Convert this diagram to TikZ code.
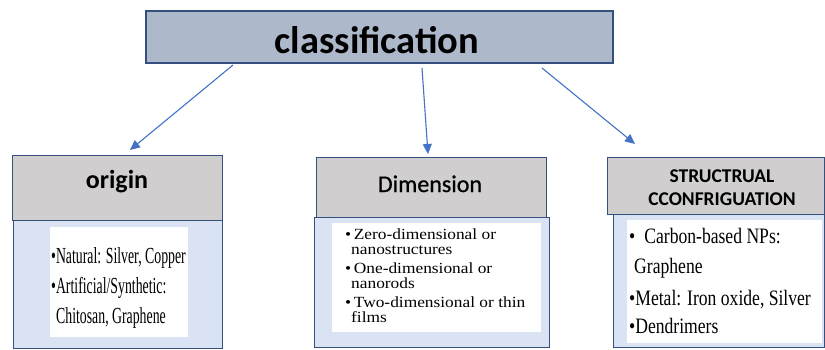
\documentclass[tikz,border=0pt]{standalone}
\usepackage{fontspec}
\setmainfont{Liberation Serif}
\newfontfamily\hdrfont{Carlito}
\newfontfamily\hdrmedfont[FakeBold=0.8]{Carlito}
\newfontfamily\leftfont[FakeStretch=0.6]{Liberation Serif}
\newfontfamily\midfont[FakeStretch=1.12]{Liberation Serif}
\newfontfamily\rightfont[FakeStretch=0.8]{Liberation Serif}
\usetikzlibrary{arrows.meta}
\definecolor{topfill}{HTML}{ADB9CA}
\definecolor{hdrfill}{HTML}{D0CECE}
\definecolor{bodyfill}{HTML}{DAE3F3}
\definecolor{navy}{HTML}{34507F}
\definecolor{arrowblue}{HTML}{4472C4}
\tikzset{
  topbox/.style={draw=navy, line width=1.5pt, fill=topfill, anchor=north west, inner sep=0pt},
  hdrbox/.style={draw=navy, line width=1.3pt, fill=hdrfill, anchor=north west, inner sep=0pt},
  bodybox/.style={draw=navy, line width=1pt, fill=bodyfill, anchor=north west, inner sep=0pt},
  whitebox/.style={fill=white, anchor=north west, inner sep=0pt},
  linetext/.style={anchor=base west, inner sep=0pt},
  hdrtext/.style={anchor=base, inner sep=0pt, align=center},
  conn/.style={draw=arrowblue, line width=1.1pt, -{Triangle[length=10pt,width=9pt]}, arrowblue}
}
\begin{document}
\begin{tikzpicture}[x=1pt,y=-1pt]
\useasboundingbox[fill=white] (0,0) rectangle (825,349);
% top box
\node[topbox, minimum width=467pt, minimum height=52pt] (top) at (145,10) {};
\node[hdrtext, font=\hdrfont\bfseries\fontsize{38.5}{40}\selectfont] (toptxt) at (377,53) {classification};

% left column
\node[bodybox, minimum width=209pt, minimum height=127.5pt] (b1) at (13,220) {};
\node[hdrbox, minimum width=210pt, minimum height=65pt] (h1) at (12,155) {};
\node[hdrtext, font=\hdrfont\bfseries\fontsize{26}{28}\selectfont] (h1t) at (117,188) {origin};
\node[whitebox, minimum width=138pt, minimum height=110pt] (w1) at (50,227) {};
\begin{scope}[font=\leftfont\fontsize{23}{26}\selectfont]
\node[linetext] (l1a) at (51,263) {•Natural: Silver, Copper};
\node[linetext] (l1b) at (51,293) {•Artificial/Synthetic:};
\node[linetext] (l1c) at (56,323) {Chitosan, Graphene};
\end{scope}

% middle column
\node[bodybox, minimum width=235pt, minimum height=130pt] (b2) at (314,217) {};
\node[hdrbox, minimum width=230pt, minimum height=60pt] (h2) at (316,157) {};
\node[hdrtext, font=\hdrmedfont\fontsize{24}{26}\selectfont] (h2t) at (430,192) {Dimension};
\node[whitebox, minimum width=209pt, minimum height=109pt] (w2) at (332,223) {};
\begin{scope}[font=\midfont\fontsize{15.5}{17}\selectfont]
\node[linetext] (l2a) at (345,239) {•\,Zero-dimensional or};
\node[linetext] (l2b) at (351,254) {nanostructures};
\node[linetext] (l2c) at (345,273) {•\,One-dimensional or};
\node[linetext] (l2d) at (351,288) {nanorods};
\node[linetext] (l2e) at (345,307) {•\,Two-dimensional or thin};
\node[linetext] (l2f) at (351,322) {films};
\end{scope}

% right column
\node[bodybox, minimum width=211pt, minimum height=133pt] (b3) at (613,214) {};
\node[hdrbox, minimum width=217pt, minimum height=57pt] (h3) at (607,157) {};
\node[hdrtext, font=\hdrfont\bfseries\fontsize{19.5}{20}\selectfont] (h3a) at (722,182) {STRUCTRUAL};
\node[hdrtext, font=\hdrfont\bfseries\fontsize{19.5}{20}\selectfont] (h3b) at (722,205) {CCONFRIGUATION};
\node[whitebox, minimum width=195pt, minimum height=123pt] (w3) at (627,220) {};
\begin{scope}[font=\rightfont\fontsize{22}{26}\selectfont]
\node[linetext] (l3a) at (629,243) {•\hspace{9pt}Carbon-based NPs:};
\node[linetext] (l3b) at (634,273) {Graphene};
\node[linetext] (l3c) at (629,305) {•Metal: Iron oxide, Silver};
\node[linetext] (l3d) at (629,333) {•Dendrimers};
\end{scope}

% connectors
\coordinate (s1) at (233,65);
\coordinate (e1) at (130,150);
\coordinate (s2) at (422,68);
\coordinate (e2) at (428,154);
\coordinate (s3) at (542,68);
\coordinate (e3) at (635,144);
\draw[conn] (s1) -- (e1);
\draw[conn] (s2) -- (e2);
\draw[conn] (s3) -- (e3);
\end{tikzpicture}
\end{document}
